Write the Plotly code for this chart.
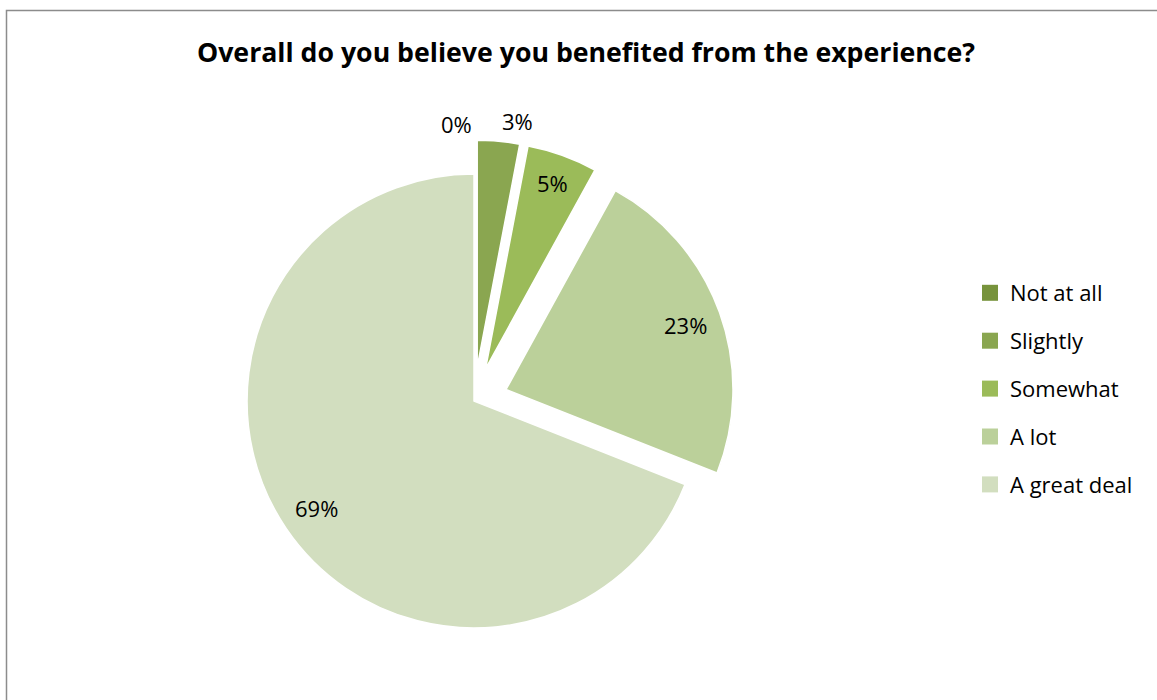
import math
import plotly.graph_objects as go

# Survey responses
categories = ["Not at all", "Slightly", "Somewhat", "A lot", "A great deal"]
percent_values = [0, 3, 5, 23, 69]
slice_colors = ["#77933C", "#8AA650", "#9BBB59", "#BBD09A", "#D2DEBF"]
slice_pull = [0.15, 0.15, 0.15, 0.15, 0.0]

# Where each percentage label sits, as a fraction of the radius from the slice tip
label_radius = [1.07, 1.09, 0.87, 0.84, 0.84]
label_xanchor = ["right", "left", "center", "center", "center"]

W, H = 1157, 700
FONT = "Open Sans"

# Pie box in pixels; plotly shrinks the radius so the pulled slices fit the box
BOX_X = (213, 735)
BOX_Y = (140, 662)

fig = go.Figure()

fig.add_trace(go.Pie(
    labels=categories,
    values=percent_values,
    sort=False,
    direction="clockwise",
    rotation=0,
    pull=slice_pull,
    marker=dict(colors=slice_colors, line=dict(color="white", width=1.5)),
    textinfo="none",
    domain=dict(x=[BOX_X[0] / W, BOX_X[1] / W], y=[1 - BOX_Y[1] / H, 1 - BOX_Y[0] / H]),
    showlegend=False,
    hoverinfo="label+percent",
))

# Percentage labels placed along each slice's bisector
cx = (BOX_X[0] + BOX_X[1]) / 2
cy = (BOX_Y[0] + BOX_Y[1]) / 2
radius = min(BOX_X[1] - BOX_X[0], BOX_Y[1] - BOX_Y[0]) / 2 / (1 + max(slice_pull))
total = sum(percent_values)
start = 0.0
for v, pull, lr, anchor in zip(percent_values, slice_pull, label_radius, label_xanchor):
    mid = (start + v / 2) / total * 2 * math.pi
    start += v
    dist = (lr + pull) * radius
    px = cx + dist * math.sin(mid)
    py = cy - dist * math.cos(mid)
    fig.add_annotation(
        x=px / W, y=1 - py / H, xref="paper", yref="paper",
        text=f"{round(v / total * 100)}%", showarrow=False,
        xanchor=anchor, yanchor="middle",
        font=dict(family=FONT, size=22, color="black"),
    )

# Legend entries, one group per category so the gap between rows can be set
for name, color in zip(categories, slice_colors):
    fig.add_trace(go.Scatter(
        x=[None], y=[None], mode="markers", name=name, legendgroup=name,
        marker=dict(symbol="square", size=16, color=color),
        showlegend=True,
    ))

# Outer chart frame
fig.add_shape(type="rect", xref="paper", yref="paper",
              x0=6.5 / W, x1=1.02, y0=-0.02, y1=1 - 10.5 / H,
              line=dict(color="#8c8c8c", width=1.5), fillcolor="rgba(0,0,0,0)")

fig.update_layout(
    width=W, height=H,
    margin=dict(l=0, r=0, t=0, b=0),
    paper_bgcolor="white", plot_bgcolor="white",
    xaxis=dict(visible=False), yaxis=dict(visible=False),
    title=dict(text="<b>Overall do you believe you benefited from the experience?</b>",
               x=586 / W, xanchor="center", y=1 - 53 / H, yanchor="middle",
               font=dict(family=FONT, size=26.7, color="black")),
    legend=dict(x=970 / W, xanchor="left", y=1 - 272 / H, yanchor="top",
                font=dict(family=FONT, size=22, color="black"),
                tracegroupgap=16.3, itemsizing="trace", itemwidth=30,
                bgcolor="rgba(0,0,0,0)"),
    font=dict(family=FONT),
)

fig.write_html("out.html")
